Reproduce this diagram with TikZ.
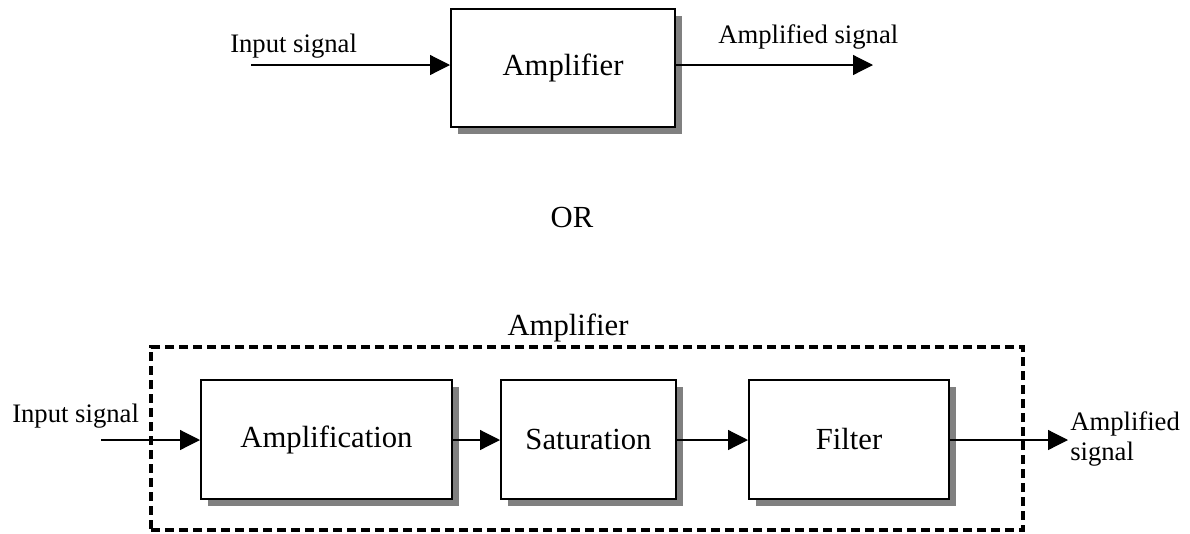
\documentclass[tikz,border=0pt]{standalone}
\usepackage{fontspec}
\setmainfont{Liberation Serif}
\usetikzlibrary{arrows.meta,shadows}
\definecolor{shadowgray}{RGB}{128,128,128}
\tikzset{
  block/.style={draw=black, line width=1.5pt, fill=white, inner sep=0pt,
    font=\fontsize{23}{27}\selectfont,
    general shadow={shadow xshift=5pt, shadow yshift=-5pt, fill=shadowgray, opacity=1}},
  sig/.style={-{Triangle[length=15pt,width=15pt]}, line width=0.9pt},
  lbl/.style={inner sep=0pt, font=\fontsize{20}{22.5}\selectfont},
  title/.style={inner sep=0pt, font=\fontsize{23}{27}\selectfont},
  frame/.style={draw=black, line width=2.5pt, dash pattern=on 7pt off 3.5pt,
    inner sep=0pt}
}
\begin{document}
\begin{tikzpicture}[x=0.75pt, y=-0.75pt]
  \useasboundingbox (0,0) rectangle (1190,533);

  % ---- single-block view ----
  \node[block, minimum width=168pt, minimum height=88.5pt] (amp) at (563,68) {Amplifier};
  \coordinate (inA) at (251,65);
  \coordinate (outA) at (873,65);
  \node[lbl, anchor=base west] (inAlbl) at (230,52) {Input signal};
  \node[lbl, anchor=base west] (outAlbl) at (718,43) {Amplified signal};
  \draw[sig] (inA) -- (inA -| amp.west);
  \draw[sig] (inA -| amp.east) -- (outA);

  \node[title, anchor=base] (or) at (572,227) {OR};

  % ---- detailed view ----
  \node[frame, minimum width=654pt, minimum height=137.25pt] (frame) at (587,438.5) {};
  \node[title, anchor=base] (framelbl) at (568,335) {Amplifier};

  \node[block, minimum width=188.25pt, minimum height=89.25pt] (ampl) at (326.5,439.5) {Amplification};
  \node[block, minimum width=131.25pt, minimum height=89.25pt] (sat) at (588.5,439.5) {Saturation};
  \node[block, minimum width=150pt, minimum height=89.25pt] (filt) at (849,439.5) {Filter};

  \coordinate (inB) at (101,440);
  \coordinate (outB) at (1068,440);
  \node[lbl, anchor=base west] (inBlbl) at (12,422) {Input signal};
  \node[lbl, anchor=base west, align=left] (outBlbl) at (1070,460) {Amplified\\signal};

  \draw[sig] (inB) -- (inB -| ampl.west);
  \draw[sig] (inB -| ampl.east) -- (inB -| sat.west);
  \draw[sig] (inB -| sat.east) -- (inB -| filt.west);
  \draw[sig] (inB -| filt.east) -- (outB);
\end{tikzpicture}
\end{document}
